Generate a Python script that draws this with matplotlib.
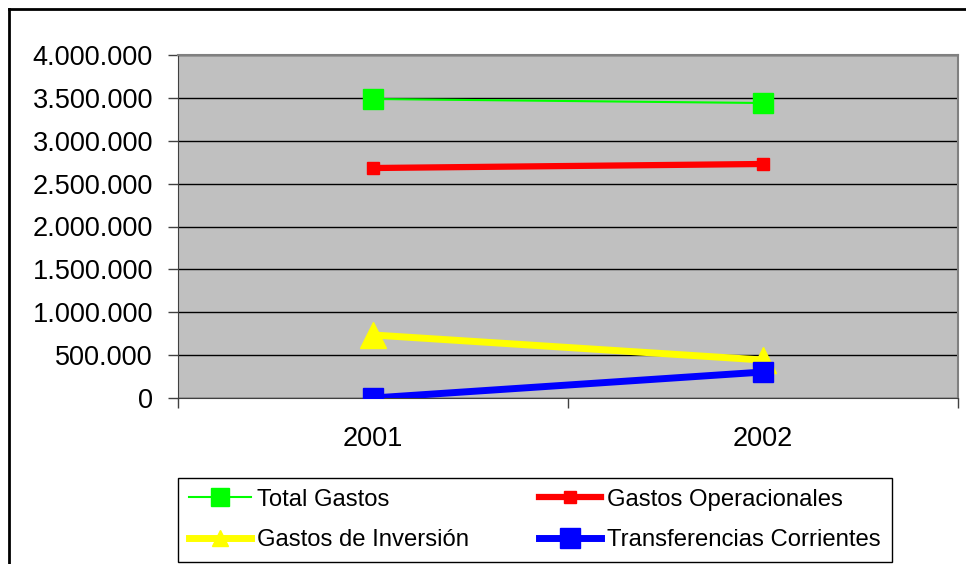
import matplotlib
matplotlib.use("Agg")
import matplotlib.pyplot as plt
from matplotlib.lines import Line2D
from matplotlib.ticker import FuncFormatter, MultipleLocator

plt.rcParams['font.family'] = ['Liberation Sans', 'DejaVu Sans']

# data
years = ['2001', '2002']
total_gastos = [3487000, 3440000]
gastos_operacionales = [2682000, 2729000]
gastos_inversion = [735000, 443000]
transferencias = [0, 303000]

W, H = 966, 564
fig = plt.figure(figsize=(W / 100, H / 100), dpi=100)
ax = fig.add_axes([178 / W, 1 - 398 / H, 780 / W, 343 / H])
ax.set_facecolor('#C0C0C0')

x = range(len(years))
l1, = ax.plot(x, total_gastos, color='#00FF00', lw=1.5, marker='s', ms=14,
              mec='#00FF00', label='Total Gastos', zorder=5)
l2, = ax.plot(x, gastos_operacionales, color='#FF0000', lw=4.5, marker='s', ms=9,
              mec='#FF0000', label='Gastos Operacionales', zorder=4)
l3, = ax.plot(x, gastos_inversion, color='#FFFF00', lw=5, marker='^', ms=19,
              mec='#FFFF00', label='Gastos de Inversión', zorder=3)
l4, = ax.plot(x, transferencias, color='#0000FF', lw=5, marker='s', ms=14,
              mec='#0000FF', label='Transferencias Corrientes', zorder=6)

ax.set_xlim(-0.5, 1.5)
ax.set_ylim(0, 4000000)
ax.yaxis.set_major_locator(MultipleLocator(500000))
ax.yaxis.set_major_formatter(FuncFormatter(lambda v, p: f"{int(v):,}".replace(',', '.')))
ax.grid(axis='y', color='black', lw=1)
ax.set_axisbelow(True)

ax.set_xticks([0, 1])
ax.set_xticklabels(years)
ax.set_xticks([-0.5, 0.5, 1.5], minor=True)
ax.tick_params(axis='x', which='major', length=0, pad=20, labelsize=19.5)
ax.tick_params(axis='x', which='minor', length=7, width=1, color='#404040', direction='out')
ax.tick_params(axis='y', length=7, width=1, color='#404040', labelsize=19.5, pad=11)

for s in ['top', 'right']:
    ax.spines[s].set_color('#808080')
    ax.spines[s].set_linewidth(1.5)
ax.spines['left'].set_color('#404040')
ax.spines['bottom'].set_color('#404040')

# legend handles (row-wise order for a 2-column legend)
h1 = Line2D([], [], color='#00FF00', lw=1.5, marker='s', ms=13, mec='#00FF00')
h2 = Line2D([], [], color='#FF0000', lw=4.5, marker='s', ms=9, mec='#FF0000')
h3 = Line2D([], [], color='#FFFF00', lw=5, marker='^', ms=12, mec='#FFFF00')
h4 = Line2D([], [], color='#0000FF', lw=5, marker='s', ms=14, mec='#0000FF')
leg = fig.legend([h1, h3, h2, h4],
                 [l1.get_label(), l3.get_label(), l2.get_label(), l4.get_label()],
                 ncol=2, loc='lower left',
                 bbox_to_anchor=(178 / W, 2 / H),
                 fancybox=False, edgecolor='black', framealpha=1,
                 fontsize=17.2, handlelength=2.6, handletextpad=0.25,
                 columnspacing=2.95, borderaxespad=0, labelspacing=0.77,
                 borderpad=0.45)
leg.get_frame().set_linewidth(1)

# outer chart border
fig.add_artist(Line2D([8.5 / W, 8.5 / W], [0, 1 - 8.5 / H], color='black', lw=2))
fig.add_artist(Line2D([8.5 / W, 1], [1 - 8.5 / H, 1 - 8.5 / H], color='black', lw=2))

fig.savefig('out.png', dpi=100)
